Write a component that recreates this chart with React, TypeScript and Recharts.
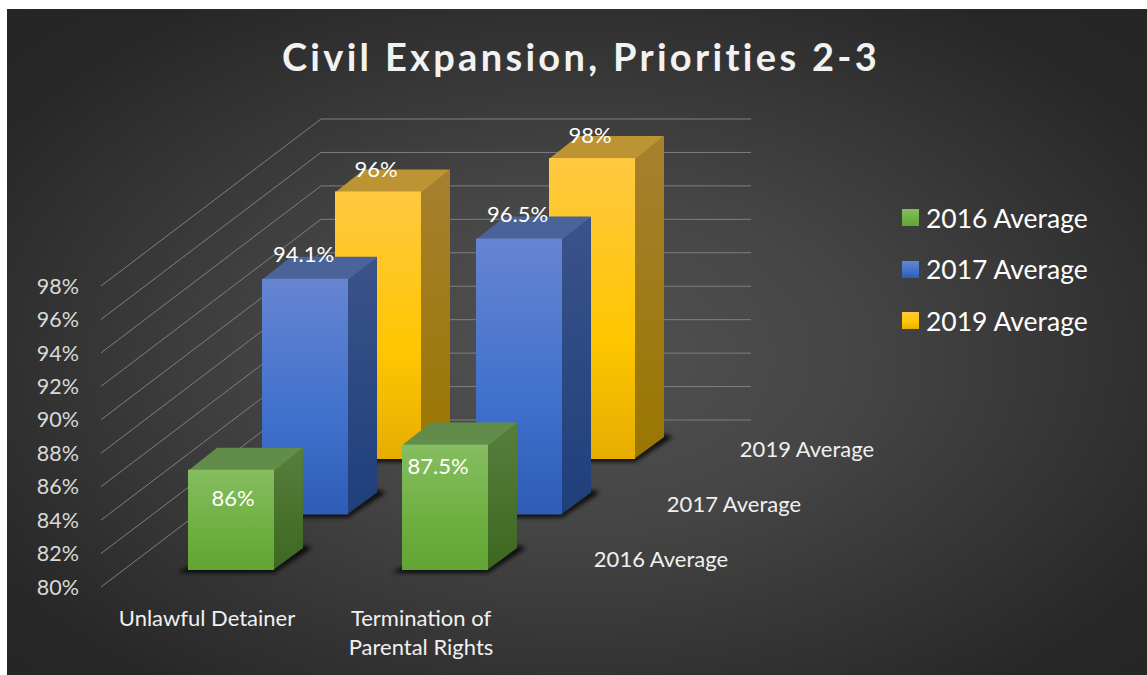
import React from "react";
import { BarChart, Bar, XAxis, YAxis, CartesianGrid, Legend, LabelList } from "recharts";

const title = "Civil Expansion, Priorities 2-3";
const categories = ["Unlawful Detainer", "Termination of Parental Rights"];
const categoryLines = [["Unlawful Detainer"], ["Termination of", "Parental Rights"]];
const avg2016 = [86, 87.5];
const avg2017 = [94.1, 96.5];
const avg2019 = [96, 98];
const seriesNames = ["2016 Average", "2017 Average", "2019 Average"];
const yTicks = [80, 82, 84, 86, 88, 90, 92, 94, 96, 98];

const rows = categories.map((name, i) => ({
  name,
  a2016: avg2016[i],
  a2017: avg2017[i],
  a2019: avg2019[i],
}));

const FONT = "Lato, Carlito, sans-serif";
const DEPTH_X = 29;
const DEPTH_Y = 22;
const offsetOf = (d: number) => ({ dx: 24 + 73.5 * d, dy: -17 - 55.5 * d });

const palette = [
  { id: "g", front: ["#86bd60", "#6eb040", "#63a534"], side: ["#567f3c", "#3d6820"], cap: "#618c49" },
  { id: "b", front: ["#6685d2", "#3f70cb", "#2e5cb6"], side: ["#3b5389", "#1f3f7b"], cap: "#4a6398" },
  { id: "y", front: ["#ffc842", "#ffc600", "#e6ad00"], side: ["#a78030", "#9a7600"], cap: "#bc9433" },
];

const makeBar = (d: number) => (props: any) => {
  const { x, y, width, height } = props;
  const { dx, dy } = offsetOf(d);
  const p = palette[d];
  const l = Math.round(x + dx);
  const r = l + width;
  const t = y + dy;
  const b = t + height;
  return (
    <g>
      <polygon
        points={`${l - 10},${b + 3} ${r},${b + 3} ${r + DEPTH_X + 9},${b - DEPTH_Y} ${r + DEPTH_X},${b - DEPTH_Y - 3} ${r},${b - 3} ${l},${b - 3}`}
        fill="#000"
        opacity={0.8}
        filter="url(#soft)"
      />
      <polygon
        points={`${r - 1},${t} ${r + DEPTH_X},${t - DEPTH_Y} ${r + DEPTH_X},${b - DEPTH_Y} ${r - 1},${b}`}
        fill={`url(#${p.id}s)`}
      />
      <polygon
        points={`${l},${t + 1} ${l + DEPTH_X},${t - DEPTH_Y} ${r + DEPTH_X},${t - DEPTH_Y} ${r},${t + 1}`}
        fill={p.cap}
      />
      <rect x={l} y={t} width={width} height={height} fill={`url(#${p.id}f)`} />
    </g>
  );
};

const labelPlacement = [
  [[2, 28], [-7, 21]],
  [[-1, -25], [-1, -25]],
  [[-2, -23], [-2, -24]],
];

const makeLabel = (d: number) => (props: any) => {
  const { x, y, width, value, index } = props;
  const { dx, dy } = offsetOf(d);
  const [nudge, shift] = labelPlacement[d][index ?? 0];
  return (
    <text
      x={x + width / 2 + dx + nudge}
      y={y + dy + shift}
      fill="#ffffff"
      fontFamily={FONT}
      fontSize={22}
      textAnchor="middle"
      dominantBaseline="central"
    >
      {`${value}%`}
    </text>
  );
};

const gridLine = (props: any) => {
  const { x1, y1 } = props;
  const x = x1 + 1;
  return (
    <polyline
      key={`g${y1}`}
      points={`${x},${y1} ${x + 220},${y1 - 167} ${x + 650},${y1 - 167}`}
      fill="none"
      stroke="#7f7f7f"
      strokeWidth={1}
    />
  );
};

const categoryTick = (props: any) => (
  <text fill="#f0f0f0" fontFamily={FONT} fontSize={22} textAnchor="middle" dominantBaseline="central">
    {categoryLines[props.index].map((line, i) => (
      <tspan key={line} x={props.x} y={props.y + 22 + 29 * i}>
        {line}
      </tspan>
    ))}
  </text>
);

const renderLegend = (props: any) => {
  const items = [...(props.payload ?? [])].sort((a: any, b: any) => String(a.value).localeCompare(String(b.value)));
  return (
    <ul style={{ listStyle: "none", margin: 0, padding: 0 }}>
      {items.map((it: any) => (
        <li key={it.value} style={{ display: "flex", alignItems: "center", height: 51.5 }}>
          <svg width={17} height={17} style={{ marginRight: 7 }}>
            <rect width={17} height={17} fill={it.color} />
          </svg>
          <span style={{ color: "#ffffff", fontFamily: FONT, fontSize: 26.5 }}>{it.value}</span>
        </li>
      ))}
    </ul>
  );
};

export default function App() {
  return (
    <div
      style={{
        position: "absolute",
        left: 7,
        top: 9,
        width: 1140,
        height: 666,
        overflow: "hidden",
        background: "radial-gradient(ellipse at 50% 52%, #525252 0%, #454545 35%, #272727 85%, #252525 100%)",
      }}
    >
      <BarChart
        width={1140}
        height={666}
        data={rows}
        barSize={86}
        barGap={-86}
        margin={{ top: 277, right: 619, bottom: 28, left: 33 }}
      >
        <defs>
          <filter id="soft" x="-20%" y="-50%" width="140%" height="200%">
            <feGaussianBlur stdDeviation="2" />
          </filter>
          {palette.map((p) => (
            <React.Fragment key={p.id}>
              <linearGradient id={`${p.id}f`} x1="0" y1="0" x2="0" y2="1">
                <stop offset="0%" stopColor={p.front[0]} />
                <stop offset="60%" stopColor={p.front[1]} />
                <stop offset="100%" stopColor={p.front[2]} />
              </linearGradient>
              <linearGradient id={`${p.id}s`} x1="0" y1="0" x2="0" y2="1">
                <stop offset="0%" stopColor={p.side[0]} />
                <stop offset="100%" stopColor={p.side[1]} />
              </linearGradient>
            </React.Fragment>
          ))}
        </defs>
        <text
          x={574}
          y={47}
          fill="#f2f2f2"
          fontFamily={FONT}
          fontWeight={700}
          fontSize={38}
          letterSpacing={3.3}
          textAnchor="middle"
          dominantBaseline="central"
        >
          {title}
        </text>
        <CartesianGrid vertical={false} horizontal={gridLine} />
        <XAxis dataKey="name" axisLine={false} tickLine={false} height={60} interval={0} tick={categoryTick} />
        <YAxis
          domain={[80, 98]}
          ticks={yTicks}
          interval={0}
          width={60}
          axisLine={false}
          tickLine={false}
          tickSize={0}
          tickMargin={21}
          tickFormatter={(v: number) => `${v}%`}
          tick={{ fill: "#d9d9d9", fontFamily: FONT, fontSize: 21.5 }}
        />
        <Legend
          layout="vertical"
          align="center"
          verticalAlign="middle"
          wrapperStyle={{ left: 895, top: 183, width: 240 }}
          content={renderLegend}
        />
        <Bar dataKey="a2019" name={seriesNames[2]} fill="url(#yf)" shape={makeBar(2)} isAnimationActive={false}>
          <LabelList dataKey="a2019" content={makeLabel(2)} />
        </Bar>
        <Bar dataKey="a2017" name={seriesNames[1]} fill="url(#bf)" shape={makeBar(1)} isAnimationActive={false}>
          <LabelList dataKey="a2017" content={makeLabel(1)} />
        </Bar>
        <Bar dataKey="a2016" name={seriesNames[0]} fill="url(#gf)" shape={makeBar(0)} isAnimationActive={false}>
          <LabelList dataKey="a2016" content={makeLabel(0)} />
        </Bar>
        {seriesNames.map((n, i) => (
          <text
            key={n}
            x={654 + 73 * i}
            y={549 - 55 * i}
            fill="#f0f0f0"
            fontFamily={FONT}
            fontSize={22}
            textAnchor="middle"
            dominantBaseline="central"
          >
            {n}
          </text>
        ))}
      </BarChart>
    </div>
  );
}
